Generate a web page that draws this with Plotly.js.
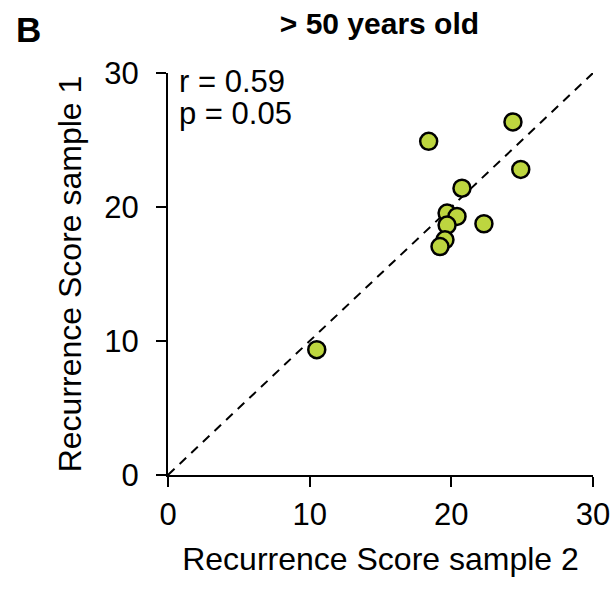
<!DOCTYPE html>
<html><head><meta charset="utf-8">
<script src="https://cdn.plot.ly/plotly-3.0.1.min.js"></script>
<style>body{margin:0;background:#fff}#chart{width:616px;height:589px}</style>
</head><body><div id="chart"></div>
<script>
const sample2 = [10.5, 18.4, 24.35, 24.9, 20.75, 19.7, 20.4, 19.7, 22.3, 19.55, 19.2];
const sample1 = [9.35, 24.9, 26.35, 22.8, 21.4, 19.55, 19.3, 18.65, 18.75, 17.55, 17.05];
const identityX = [0, 30];
const identityY = [0, 30];
const tickVals = [0, 10, 20, 30];
const tickText = ["0", "10", "20", "30"];

const font = "Liberation Sans, Arial, sans-serif";
const traces = [
  {x: identityX, y: identityY, mode: "lines", type: "scatter",
   line: {color: "#000", width: 2, dash: "9px,7px"}, hoverinfo: "skip", cliponaxis: false},
  {x: sample2, y: sample1, mode: "markers", type: "scatter",
   marker: {size: 17, color: "#bdd63f", line: {color: "#000", width: 2.5}}, cliponaxis: false}
];
const layout = {
  width: 616, height: 589, showlegend: false,
  paper_bgcolor: "#fff", plot_bgcolor: "#fff",
  margin: {l: 168, r: 23, t: 73, b: 114},
  font: {family: font, color: "#000", size: 31},
  title: {text: "<b>> 50 years old</b>", x: 0.616, xanchor: "center", y: 0.96, yanchor: "middle",
          font: {family: font, size: 30, color: "#000"}},
  xaxis: {range: [0, 30], tickvals: tickVals, ticktext: tickText, showgrid: false, zeroline: false,
          showline: true, linecolor: "#000", linewidth: 2, ticks: "outside", ticklen: 10, tickwidth: 2,
          tickcolor: "#000", ticklabelstandoff: 1, tickfont: {size: 31},
          title: {text: "Recurrence Score sample 2", font: {size: 32}, standoff: 16}},
  yaxis: {range: [0, 30], tickvals: tickVals, ticktext: tickText, showgrid: false, zeroline: false,
          showline: true, linecolor: "#000", linewidth: 2, ticks: "outside", ticklen: 10, tickwidth: 2,
          tickcolor: "#000", ticklabelstandoff: 11, tickfont: {size: 31},
          title: {text: "Recurrence Score sample 1", font: {size: 32}, standoff: 13}},
  annotations: [
    {text: "r = 0.59", xref: "paper", yref: "paper", x: 0.02, y: 0.978, xanchor: "left", yanchor: "middle",
     showarrow: false, font: {size: 31}},
    {text: "p = 0.05", xref: "paper", yref: "paper", x: 0.02, y: 0.9, xanchor: "left", yanchor: "middle",
     showarrow: false, font: {size: 31}},
    {text: "<b>B</b>", xref: "paper", yref: "paper", x: -0.329, y: 1.107, xanchor: "center", yanchor: "middle",
     showarrow: false, font: {size: 35}}
  ]
};
Plotly.newPlot("chart", traces, layout, {displayModeBar: false, staticPlot: true});
</script></body></html>
